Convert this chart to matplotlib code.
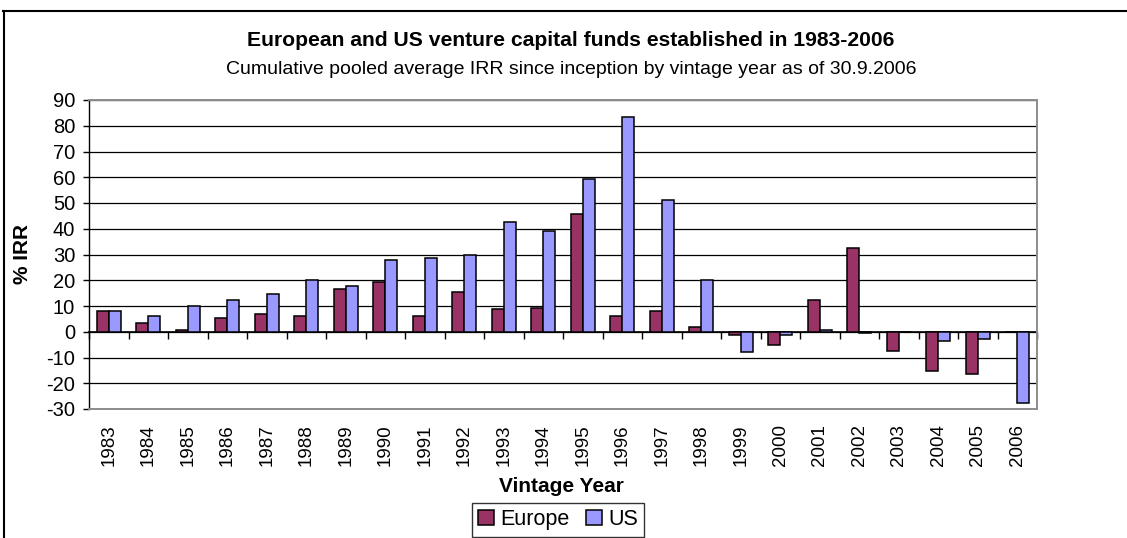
import numpy as np
import matplotlib
matplotlib.use("Agg")
import matplotlib.pyplot as plt
from matplotlib.lines import Line2D

plt.rcParams["font.family"] = ["Liberation Sans", "DejaVu Sans"]
plt.rcParams["axes.unicode_minus"] = False

years = [str(y) for y in range(1983, 2007)]
europe = [8.1, 3.3, 0.6, 5.4, 6.7, 6.0, 16.6, 19.5, 6.0, 15.3, 8.8, 9.4,
          45.6, 6.0, 8.1, 2.0, -1.3, -5.0, 12.2, 32.7, -7.3, -15.1, -16.6, 0.0]
us = [8.1, 6.0, 10.0, 12.2, 14.5, 20.0, 17.9, 27.8, 28.5, 30.0, 42.7, 39.1,
      59.3, 83.3, 51.2, 20.0, -8.0, -1.3, 0.5, -0.5, 0.0, -3.6, -2.8, -27.8]
y_ticks = list(range(-30, 91, 10))

COL_EU = "#993366"
COL_US = "#9999FF"
W, H = 1127, 538

fig = plt.figure(figsize=(W / 100, H / 100), dpi=100)
ax = fig.add_axes([89 / W, 1 - 409 / H, (1037 - 89) / W, (409 - 100) / H])

x = np.arange(len(years))
bw = 0.3
ax.bar(x - bw / 2, europe, bw, color=COL_EU, edgecolor="black", linewidth=1.1,
       label="Europe", zorder=3)
ax.bar(x + bw / 2, us, bw, color=COL_US, edgecolor="black", linewidth=1.1,
       label="US", zorder=3)

ax.set_xlim(-0.5, len(years) - 0.5)
ax.set_ylim(-30, 90)
ax.set_yticks(y_ticks)
ax.yaxis.grid(True, color="black", linewidth=0.9)
ax.set_axisbelow(True)

ax.set_xticks(x, years)
ax.tick_params(axis="x", length=0, pad=11, rotation=90, labelsize=13.5)
ax.tick_params(axis="y", direction="out", length=4, width=1, pad=6, labelsize=14.5)

for s in ("top", "right", "bottom"):
    ax.spines[s].set_color("#8c8c8c")
    ax.spines[s].set_linewidth(1.4)
ax.spines["left"].set_color("black")
ax.spines["left"].set_linewidth(1.0)

# category axis line crossing at zero with boundary ticks
sec = ax.secondary_xaxis(0, transform=ax.transData)
sec.set_xticks(np.arange(-0.5, len(years), 1.0))
sec.tick_params(direction="out", length=5, width=1, labelbottom=False)
sec.spines["bottom"].set_color("black")
sec.spines["bottom"].set_linewidth(1.2)

ax.set_ylabel("% IRR", fontsize=15, fontweight="bold")
ax.yaxis.set_label_coords((32 - 89) / (1037 - 89), 0.5)

fig.text(571 / W, 1 - 40 / H,
         "European and US venture capital funds established in 1983-2006",
         ha="center", va="center", fontsize=15.2, fontweight="bold")
fig.text(571 / W, 1 - 70 / H,
         "Cumulative pooled average IRR since inception by vintage year as of 30.9.2006",
         ha="center", va="center", fontsize=14)
fig.text(561 / W, 1 - 487 / H, "Vintage Year", ha="center", va="center",
         fontsize=15, fontweight="bold")

leg = fig.legend(loc="upper left", bbox_to_anchor=(472 / W, 1 - 503 / H), ncol=2,
                 fontsize=15.5, frameon=True, fancybox=False, edgecolor="black",
                 handlelength=0.7, handleheight=0.7, handletextpad=0.3,
                 columnspacing=0.8, borderpad=0.3, borderaxespad=0)
leg.get_frame().set_linewidth(1.0)

# outer chart-area border (top and left visible)
fig.add_artist(Line2D([3 / W, 1], [1 - 11 / H, 1 - 11 / H], color="black",
                      linewidth=1.5, transform=fig.transFigure))
fig.add_artist(Line2D([4 / W, 4 / W], [0, 1 - 11 / H], color="black",
                      linewidth=1.5, transform=fig.transFigure))

fig.savefig("out.png", dpi=100)
